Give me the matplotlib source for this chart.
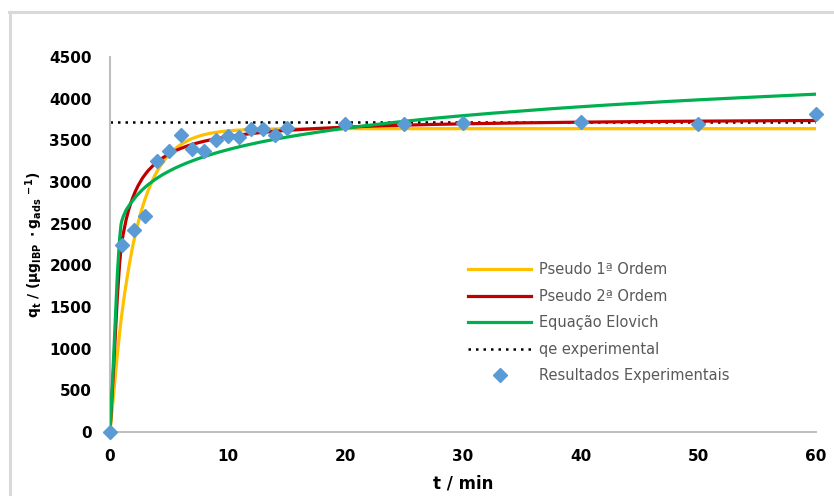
import numpy as np
import matplotlib
matplotlib.use("Agg")
import matplotlib.pyplot as plt
from matplotlib.lines import Line2D
from matplotlib.path import Path
from matplotlib.patches import PathPatch

plt.rcParams["font.family"] = ["DejaVu Sans"]

# time (min) and measured uptake
t_exp = [0, 1, 2, 3, 4, 5, 6, 7, 8, 9, 10, 11, 12, 13, 14, 15, 20, 25, 30, 40, 50, 60]
q_exp = [0, 2240, 2420, 2590, 3250, 3370, 3560, 3390, 3375, 3500, 3555, 3545,
         3635, 3630, 3560, 3650, 3700, 3690, 3710, 3725, 3690, 3820]

# fitted kinetic models, evaluated at the same times
q_pfo = [0, 1410, 2274, 2803, 3127, 3326, 3447, 3522, 3568, 3596, 3613, 3623,
         3630, 3634, 3636, 3638, 3640, 3640, 3640, 3640, 3640, 3640]
q_pso = [0, 2268, 2835, 3093, 3240, 3335, 3402, 3451, 3489, 3519, 3544, 3564,
         3581, 3596, 3608, 3619, 3658, 3682, 3698, 3718, 3730, 3738]
q_elo = [0, 2531, 2789, 2939, 3046, 3129, 3197, 3254, 3304, 3348, 3387, 3423,
         3455, 3485, 3512, 3538, 3645, 3728, 3796, 3903, 3986, 4054]
qe_exp = 3715


def smooth_path(x, y):
    """Monotone cubic (PCHIP-type tangents) drawn as Bezier segments through the points."""
    x = np.asarray(x, float)
    y = np.asarray(y, float)
    h = np.diff(x)
    d = np.diff(y) / h
    m = np.zeros_like(y)
    m[0], m[-1] = d[0], d[-1]
    for k in range(1, len(x) - 1):
        if d[k - 1] * d[k] > 0:
            w1 = 2 * h[k] + h[k - 1]
            w2 = h[k] + 2 * h[k - 1]
            m[k] = (w1 + w2) / (w1 / d[k - 1] + w2 / d[k])
    verts = [(x[0], y[0])]
    codes = [Path.MOVETO]
    for k in range(len(x) - 1):
        verts += [(x[k] + h[k] / 3, y[k] + m[k] * h[k] / 3),
                  (x[k + 1] - h[k] / 3, y[k + 1] - m[k + 1] * h[k] / 3),
                  (x[k + 1], y[k + 1])]
        codes += [Path.CURVE4] * 3
    return Path(verts, codes)


fig = plt.figure(figsize=(8.34, 4.96), dpi=100)
W, H = 834, 496
ax = fig.add_axes([110 / W, (H - 432) / H, 706 / W, 375 / H])

curves = [
    (q_pfo, "#FFC000", "Pseudo 1ª Ordem", 2),
    (q_pso, "#C00000", "Pseudo 2ª Ordem", 3),
    (q_elo, "#00B050", "Equação Elovich", 4),
]
for q, col, lab, z in curves:
    ax.add_patch(PathPatch(smooth_path(t_exp, q), fill=False, edgecolor=col,
                           lw=2.3, zorder=z, capstyle="round"))
    ax.plot([], [], color=col, lw=2.3, label=lab)

ax.plot([0, 60], [qe_exp, qe_exp], color="black", lw=1.8, ls=(0, (1, 2)),
        label="qe experimental", zorder=1)
ax.plot(t_exp, q_exp, ls="none", marker="D", ms=7.5, color="#5B9BD5",
        label="Resultados Experimentais", zorder=5, clip_on=False)

ax.set_xlim(0, 60)
ax.set_ylim(0, 4500)
ax.set_xticks(range(0, 61, 10))
ax.set_yticks(range(0, 4501, 500))
ax.tick_params(length=0, labelsize=11)
ax.tick_params(axis="y", pad=13)
ax.tick_params(axis="x", pad=12)
for lab in ax.get_xticklabels() + ax.get_yticklabels():
    lab.set_fontweight("bold")

for side in ("top", "right"):
    ax.spines[side].set_visible(False)
for side in ("left", "bottom"):
    ax.spines[side].set_color("#bfbfbf")
    ax.spines[side].set_linewidth(1.5)

ax.set_xlabel("t / min", fontsize=12, fontweight="bold", labelpad=8)
ax.set_ylabel(r"$\mathbf{q_t\ /\ (\mu g_{IBP}\ \cdot g_{ads}\ ^{-1})}$",
              fontsize=10, labelpad=3)

leg = ax.legend(loc="upper left", bbox_to_anchor=(0.489, 0.487), frameon=False,
                fontsize=10.5, handlelength=4.3, labelspacing=0.78,
                handletextpad=0.55)
for txt in leg.get_texts():
    txt.set_color("#595959")

# chart area frame (left and top edges)
fig.add_artist(Line2D([9.5 / W, 9.5 / W], [0, 1 - 12 / H], transform=fig.transFigure,
                      color="#d9d9d9", lw=2.2))
fig.add_artist(Line2D([8.5 / W, 1], [1 - 12 / H, 1 - 12 / H], transform=fig.transFigure,
                      color="#d9d9d9", lw=2.2))

fig.savefig("out.png", dpi=100)
